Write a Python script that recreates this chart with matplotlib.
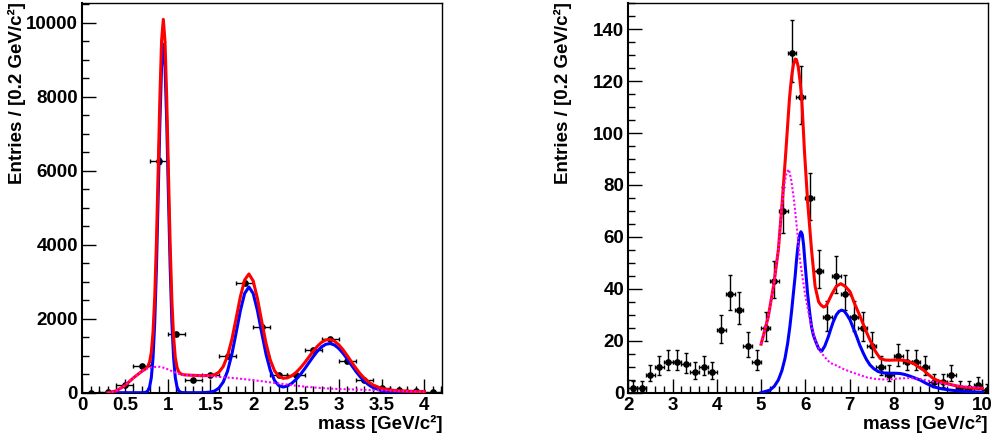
import numpy as np
import matplotlib
matplotlib.use('Agg')
import matplotlib.pyplot as plt
from matplotlib.ticker import MultipleLocator, FuncFormatter

# ---- left panel: data (bin centres, counts per 0.2 GeV/c^2) ----
left_x = [0.1, 0.3, 0.5, 0.7, 0.9, 1.1, 1.3, 1.5, 1.7, 1.9,
          2.1, 2.3, 2.5, 2.7, 2.9, 3.1, 3.3, 3.5, 3.7, 3.9, 4.1]
left_counts = [3, 10, 200, 710, 6260, 1585, 350, 470, 990, 2960,
               1790, 470, 485, 1145, 1440, 845, 350, 120, 70, 50, 25]

# ---- left panel: fit curves ----
left_fit_x = [0.30, 0.40, 0.50, 0.60, 0.70,
              0.73, 0.75, 0.77, 0.79, 0.81, 0.83, 0.85, 0.87, 0.89, 0.91, 0.93, 0.95,
              0.97, 0.99, 1.01, 1.03, 1.05, 1.07, 1.09, 1.11, 1.13, 1.15, 1.17,
              1.20, 1.30, 1.40,
              1.50, 1.55, 1.60, 1.65, 1.70, 1.75, 1.80, 1.85, 1.90, 1.95,
              2.00, 2.05, 2.10, 2.15, 2.20, 2.25, 2.30, 2.35, 2.40, 2.45,
              2.50, 2.55, 2.60, 2.65, 2.70, 2.75, 2.80, 2.85, 2.90, 2.95,
              3.00, 3.05, 3.10, 3.15, 3.20, 3.25, 3.30, 3.35, 3.40,
              3.50, 3.60, 3.70, 3.80, 3.90, 4.00]
left_total = [0, 50, 190, 400, 580,
              624, 656, 714, 835, 1095, 1642, 2607, 4100, 6012, 8000, 9530, 10098,
              9502, 7945, 5935, 4005, 2495, 1515, 955, 688, 566, 516, 494,
              482, 470, 460,
              466, 488, 556, 708, 991, 1431, 2001, 2594, 3048, 3212,
              3024, 2544, 1927, 1337, 882, 591, 441, 389, 402, 457,
              546, 666, 806, 962, 1117, 1257, 1365, 1428, 1440, 1394,
              1297, 1161, 999, 828, 662, 513, 387, 285, 209,
              115, 72, 52, 41, 35, 30]
left_signal = [0, 0, 0, 0, 0,
               4, 16, 54, 160, 410, 950, 1910, 3400, 5310, 7300, 8840, 9420,
               8840, 7300, 5310, 3400, 1910, 950, 410, 160, 54, 16, 4,
               0, 0, 0,
               16, 48, 126, 288, 581, 1031, 1611, 2216, 2683, 2860,
               2684, 2219, 1617, 1042, 602, 326, 191, 154, 182, 252,
               356, 488, 641, 807, 972, 1122, 1240, 1311, 1330, 1289,
               1197, 1065, 907, 739, 577, 432, 309, 211, 139,
               53, 17, 4, 1, 0, 0]
left_bkg = [0, 50, 190, 400, 580,
            620, 640, 660, 675, 685, 692, 697, 700, 702, 700, 690, 678,
            662, 645, 625, 605, 585, 565, 545, 528, 512, 500, 490,
            482, 470, 460,
            450, 440, 430, 420, 410, 400, 390, 378, 365, 352,
            340, 325, 310, 295, 280, 265, 250, 235, 220, 205,
            190, 178, 165, 155, 145, 135, 125, 117, 110, 105,
            100, 96, 92, 89, 85, 81, 78, 74, 70,
            62, 55, 48, 40, 35, 30]

# ---- right panel: data ----
right_x = [2.1, 2.3, 2.5, 2.7, 2.9, 3.1, 3.3, 3.5, 3.7, 3.9,
           4.1, 4.3, 4.5, 4.7, 4.9, 5.1, 5.3, 5.5, 5.7, 5.9,
           6.1, 6.3, 6.5, 6.7, 6.9, 7.1, 7.3, 7.5, 7.7, 7.9,
           8.1, 8.3, 8.5, 8.7, 8.9, 9.1, 9.3, 9.5, 9.7, 9.9, 10.1]
right_counts = [2, 2, 7, 10, 12, 12, 11, 8, 10, 8,
                24, 38, 32, 18, 12, 25, 43, 70, 131, 114,
                75, 47, 29, 45, 38, 29, 25, 18, 10, 7,
                14, 12, 12, 10, 4, 4, 7, 2, 2, 3, 1]

# ---- right panel: fit curves ----
right_total_x = [5.00, 5.16, 5.29, 5.39, 5.48, 5.56, 5.64, 5.67, 5.70, 5.73,
                 5.77, 5.80, 5.84, 5.88, 5.92, 5.98, 6.05, 6.14, 6.22, 6.30,
                 6.35, 6.41, 6.46, 6.50, 6.60, 6.70, 6.80, 6.90, 7.01, 7.12,
                 7.24, 7.35, 7.46, 7.58, 7.69, 7.80, 7.91, 8.05, 8.21, 8.33,
                 8.44, 8.55, 8.67, 8.78, 8.89, 9.00, 9.12, 9.27, 9.42, 9.60,
                 9.80, 10.00]
right_total = [18.7, 29, 42, 55, 74, 93, 113, 118.5, 123, 126.3,
               128.5, 128.3, 125.5, 120, 113, 93, 74, 55, 41, 35,
               33.8, 33, 33.3, 34.5, 38, 41, 42, 41, 38.9, 34,
               29.3, 24.5, 20.3, 16, 13.2, 12.6, 12.5, 12.6, 12.5, 12,
               11.3, 10, 8.7, 7, 5.5, 4.6, 3.9, 3.2, 2.6, 2.1,
               1.8, 1.6]
right_signal_x = [5.00, 5.20, 5.30, 5.39, 5.47, 5.54, 5.60, 5.65, 5.69, 5.73,
                  5.77, 5.80, 5.83, 5.86, 5.90, 5.93, 5.96, 6.00, 6.05, 6.10,
                  6.14, 6.18, 6.22, 6.30, 6.37, 6.44, 6.52, 6.58, 6.63, 6.70,
                  6.76, 6.82, 6.88, 6.94, 7.01, 7.08, 7.16, 7.23, 7.31, 7.38,
                  7.46, 7.55, 7.65, 7.78, 7.91, 8.02, 8.14, 8.25, 8.36, 8.47,
                  8.59, 8.74, 8.89, 9.08, 9.27, 9.46, 9.65, 9.82, 10.00]
right_signal = [0, 1, 2.5, 4.9, 8.5, 13.2, 19, 25.4, 31.5, 38.3,
                45, 51, 56, 60, 62, 61, 57, 48.5, 38.3, 30.5,
                25.4, 22.3, 20.3, 17, 16, 18, 21.6, 24.8, 27.3, 30,
                31.3, 31.8, 31.4, 30, 28, 25, 21.6, 18.3, 15.2, 12.8,
                10.7, 9.2, 8.1, 7.6, 7.5, 7.5, 7.4, 7, 6.4, 5.7,
                4.9, 3.5, 2.3, 1.5, 1, 0.7, 0.5, 0.3, 0.2]
right_bkg_x = [5.00, 5.16, 5.29, 5.39, 5.45, 5.52, 5.58, 5.63, 5.68, 5.73,
               5.77, 5.83, 5.88, 5.94, 5.99, 6.07, 6.14, 6.23, 6.33, 6.45,
               6.56, 6.70, 6.85, 7.01, 7.20, 7.39, 7.58, 7.77, 7.95, 8.14,
               8.33, 8.52, 8.70, 8.89, 9.08, 9.27, 9.46, 9.65, 9.82, 10.00]
right_bkg = [18.7, 29, 42, 55, 68, 80, 85, 86, 82, 76,
             70, 60, 51, 44, 38.3, 31, 25.4, 20, 16, 13.5,
             11.5, 10.5, 9.2, 8.1, 7, 5.9, 5.3, 5.1, 5.2, 5.5,
             5.6, 5.5, 4.9, 4.2, 3.6, 3, 2.6, 2.3, 2.1, 1.9]


def poisson_errors(counts):
    # approximate 68% Poisson interval (Gehrels), like RooFit draws
    n = np.asarray(counts, dtype=float)
    up = np.sqrt(n + 0.75) + 1.0
    m = np.maximum(n, 1.0)
    low = np.where(n > 0, n - n * (1 - 1 / (9 * m) - 1 / (3 * np.sqrt(m))) ** 3, 0.0)
    return low, up


plt.rcParams['font.family'] = ['Liberation Sans', 'DejaVu Sans']
plt.rcParams['font.weight'] = 'bold'
plt.rcParams['font.size'] = 13.5

fig = plt.figure(figsize=(9.92, 4.43), dpi=100)
ax1 = fig.add_axes([82 / 992, 1 - 392.7 / 443, 360 / 992, 389.7 / 443])
ax2 = fig.add_axes([628.3 / 992, 1 - 392.7 / 443, 359.4 / 992, 389.7 / 443])

fmt = FuncFormatter(lambda v, p: f'{v:g}')


def style_axes(ax, xmaj, xmin, ymaj, ymin):
    ax.xaxis.set_major_locator(MultipleLocator(xmaj))
    ax.xaxis.set_minor_locator(MultipleLocator(xmin))
    ax.yaxis.set_major_locator(MultipleLocator(ymaj))
    ax.yaxis.set_minor_locator(MultipleLocator(ymin))
    ax.xaxis.set_major_formatter(fmt)
    ax.yaxis.set_major_formatter(fmt)
    ax.tick_params(which='both', direction='in', top=False, right=False, width=1)
    ax.tick_params(which='major', length=10, labelsize=13.5)
    ax.tick_params(which='minor', length=5)
    ax.tick_params(axis='y', pad=3)
    ax.tick_params(axis='x', pad=3)
    for side in ['left', 'bottom']:
        ax.spines[side].set_linewidth(1.5)
    for side in ['top', 'right']:
        ax.spines[side].set_linewidth(1.0)
    ax.set_xlabel('mass [GeV/c²]', loc='right', fontsize=13.5, fontweight='bold')
    ax.set_ylabel('Entries / [0.2 GeV/c²]', loc='top', fontsize=13.5, fontweight='bold')
    ax.xaxis.label.set_va('top')
    ax.xaxis.set_label_coords(1.0, -0.056)
    ax.yaxis.label.set_va('center')
    ax.yaxis.set_label_coords(-0.182, 1.003)


# left panel
lo, up = poisson_errors(left_counts)
ax1.errorbar(left_x, left_counts, xerr=0.1, yerr=[lo, up], fmt='o', color='black',
             ms=3.8, elinewidth=1, capsize=1.5, capthick=1, zorder=2)
ax1.plot(left_fit_x, left_signal, color='#0000ff', lw=2.2, zorder=3)
ax1.plot(left_fit_x, left_total, color='#ff0000', lw=2.2, zorder=4)
ax1.plot(left_fit_x, left_bkg, color='#ff00ff', lw=1.5, ls=(0, (1, 1)), zorder=5)
ax1.set_xlim(0, 4.206)
ax1.set_ylim(0, 10540)
style_axes(ax1, 0.5, 0.1, 2000, 500)

# right panel
lo, up = poisson_errors(right_counts)
ax2.errorbar(right_x, right_counts, xerr=0.1, yerr=[lo, up], fmt='o', color='black',
             ms=3.8, elinewidth=1, capsize=1.5, capthick=1, zorder=2)
ax2.plot(right_signal_x, right_signal, color='#0000ff', lw=2.2, zorder=3)
ax2.plot(right_total_x, right_total, color='#ff0000', lw=2.2, zorder=4)
ax2.plot(right_bkg_x, right_bkg, color='#ff00ff', lw=1.5, ls=(0, (1, 1)), zorder=5)
ax2.set_xlim(2, 10.12)
ax2.set_ylim(0, 150.1)
style_axes(ax2, 1, 0.2, 20, 5)

fig.savefig('out.png', dpi=100, facecolor='white')
